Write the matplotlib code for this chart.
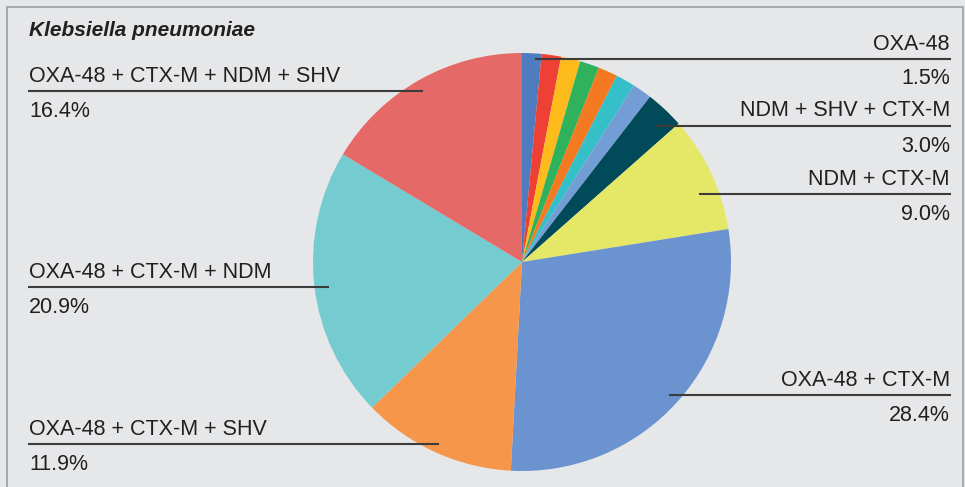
import numpy as np
import matplotlib as mpl
mpl.use('Agg')
import matplotlib.pyplot as plt
from matplotlib.patches import Rectangle

# slices clockwise from 12 o'clock
labels = ['OXA-48', '', '', '', '', '', '', 'NDM + SHV + CTX-M', 'NDM + CTX-M',
          'OXA-48 + CTX-M', 'OXA-48 + CTX-M + SHV', 'OXA-48 + CTX-M + NDM',
          'OXA-48 + CTX-M + NDM + SHV']
values = [1.5, 1.5, 1.5, 1.5, 1.5, 1.5, 1.5, 3.0, 9.0, 28.4, 11.9, 20.9, 16.4]
colors = ['#4f7bbf', '#ee4035', '#fdbb1c', '#30b15b', '#f37a20', '#35bfc9', '#739ed5',
          '#004a5a', '#e5e767', '#6a93cf', '#f6964a', '#75ccd0', '#e56966']

# leader lines (pixel layout): y of the rule and where it ends inside the slice
line_y = [58.5, None, None, None, None, None, None, 125.5, 194, 394.7, 444.3, 286.7, 90.7]
line_x = [536, None, None, None, None, None, None, 657, 700, 670, 438, 328, 422]

W, H = 965, 487
bg = '#e6e7e8'
txt = '#231f20'
plt.rcParams['font.family'] = ['Liberation Sans', 'DejaVu Sans']

fig = plt.figure(figsize=(W / 100, H / 100), dpi=100, facecolor=bg)

def fx(x):
    return x / W

def fy(y):
    return 1 - y / H

# frame
fig.patches.append(Rectangle((fx(7), fy(H + 5)), fx(963) - fx(7), fy(7) - fy(H + 5),
                             transform=fig.transFigure, fill=False, ec='#9c9ea0', lw=1.2))

# pie axes: centre (522, 262), radius 209 px
cx, cy, r = 522, 262, 209
ax = fig.add_axes([fx(cx - r), fy(cy + r), 2 * r / W, 2 * r / H])
ax.set_facecolor('none')
wedges, _ = ax.pie(values, colors=colors, startangle=90, counterclock=False, radius=1,
                   wedgeprops=dict(linewidth=0))
ax.set_xlim(-1, 1)
ax.set_ylim(-1, 1)
ax.set_aspect('equal')
ax.axis('off')

fig.text(fx(29), fy(36), 'Klebsiella pneumoniae', fontsize=15, fontweight='bold',
         fontstyle='italic', color=txt, va='baseline', ha='left')

fs = 15.5
for lab, v, ly, lx in zip(labels, values, line_y, line_x):
    if not lab:
        continue
    right = lx > cx
    x_end = 950 if right else 29
    fig.add_artist(plt.Line2D([fx(lx), fx(x_end)], [fy(ly), fy(ly)], transform=fig.transFigure,
                              color='#3c3c3c', lw=1.5))
    ha = 'right' if right else 'left'
    fig.text(fx(x_end), fy(ly - 9), lab, ha=ha, va='baseline', fontsize=fs, color=txt)
    fig.text(fx(x_end), fy(ly + 26), f'{v:.1f}%', ha=ha, va='baseline', fontsize=fs, color=txt)

fig.savefig('out.png', dpi=100, facecolor=bg)
